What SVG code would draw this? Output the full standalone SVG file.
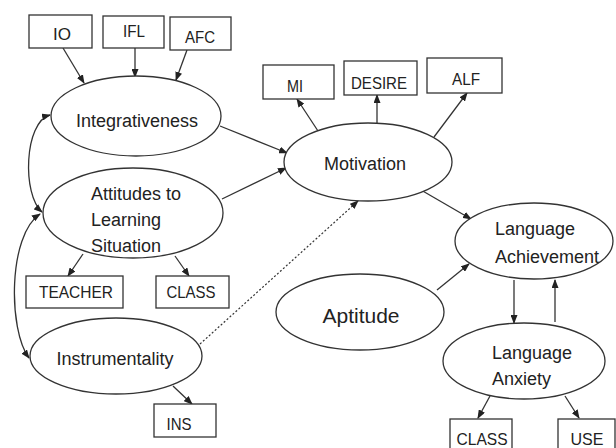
<svg xmlns="http://www.w3.org/2000/svg" width="616" height="448" viewBox="0 0 616 448">
<defs>
<marker id="ah" markerWidth="9" markerHeight="7" refX="8" refY="3.5" orient="auto-start-reverse" markerUnits="userSpaceOnUse">
<path d="M0,0 L9,3.5 L0,7 z" fill="#222"/>
</marker>
<style>
.n{fill:#fff;stroke:#333;stroke-width:1.3}
.t{font-family:"Liberation Sans",Arial,sans-serif;font-size:18px;fill:#222}
.b{font-family:"Liberation Sans",Arial,sans-serif;font-size:17px;fill:#222;text-anchor:middle}
.c{fill:none;stroke:#333;stroke-width:1.3;marker-end:url(#ah)}
.d{fill:none;stroke:#333;stroke-width:1.2;stroke-dasharray:2 2;marker-end:url(#ah)}
.dbl{fill:none;stroke:#333;stroke-width:1.3;marker-start:url(#ah);marker-end:url(#ah)}
</style>
</defs>
<rect width="616" height="448" fill="#fff"/>
<g id="connectors">
<line class="c" x1="63" y1="48" x2="84" y2="83"/>
<line class="c" x1="135" y1="48" x2="135" y2="77"/>
<line class="c" x1="187" y1="50" x2="176" y2="80"/>
<line class="c" x1="220" y1="126" x2="287" y2="153"/>
<line class="c" x1="222" y1="199" x2="286" y2="168"/>
<line class="c" x1="83" y1="254" x2="68" y2="276"/>
<line class="c" x1="175" y1="256" x2="189" y2="276"/>
<line class="c" x1="173" y1="386" x2="192" y2="404"/>
<line class="d" x1="200" y1="344" x2="358" y2="201"/>
<line class="c" x1="318" y1="131" x2="297" y2="99"/>
<line class="c" x1="377" y1="123" x2="377" y2="95"/>
<line class="c" x1="434" y1="137" x2="467" y2="93"/>
<line class="c" x1="421" y1="190" x2="471" y2="219"/>
<line class="c" x1="437" y1="290" x2="469" y2="264"/>
<line class="c" x1="514" y1="280" x2="514" y2="323"/>
<line class="c" x1="555" y1="322" x2="555" y2="280"/>
<line class="c" x1="490" y1="396" x2="478" y2="418"/>
<line class="c" x1="565" y1="396" x2="579" y2="418"/>
<path class="dbl" d="M50,115 C24,122 22,195 42,212"/>
<path class="dbl" d="M40,214 C8,235 8,330 29,358"/>
</g>
<g id="IO"><rect class="n" x="29" y="15" width="63" height="33"/><text class="b" x="62" y="40" textLength="18" lengthAdjust="spacingAndGlyphs">IO</text></g>
<g id="IFL"><rect class="n" x="103" y="16" width="61" height="32"/><text class="b" x="134" y="37" textLength="22" lengthAdjust="spacingAndGlyphs">IFL</text></g>
<g id="AFC"><rect class="n" x="170" y="17" width="61" height="33"/><text class="b" x="200" y="43" textLength="30" lengthAdjust="spacingAndGlyphs">AFC</text></g>
<g id="Integrativeness"><ellipse class="n" cx="136" cy="116" rx="85" ry="40"/><text class="t" x="137" y="127" text-anchor="middle">Integrativeness</text></g>
<g id="Attitudes"><ellipse class="n" cx="133" cy="213" rx="90" ry="45"/>
<text class="t" x="91" y="200">Attitudes to</text><text class="t" x="91" y="226">Learning</text><text class="t" x="91" y="252">Situation</text></g>
<g id="TEACHER"><rect class="n" x="26" y="276" width="97" height="32"/><text class="b" x="76" y="298" textLength="74" lengthAdjust="spacingAndGlyphs">TEACHER</text></g>
<g id="CLASS1"><rect class="n" x="156" y="276" width="73" height="32"/><text class="b" x="191" y="298" textLength="49" lengthAdjust="spacingAndGlyphs">CLASS</text></g>
<g id="Instrumentality"><ellipse class="n" cx="116" cy="356" rx="86" ry="38"/><text class="t" x="115" y="365" text-anchor="middle">Instrumentality</text></g>
<g id="INS"><rect class="n" x="154" y="404" width="62" height="33"/><text class="b" x="179" y="430" textLength="25" lengthAdjust="spacingAndGlyphs">INS</text></g>
<g id="MI"><rect class="n" x="263" y="65" width="71" height="34"/><text class="b" x="295" y="92" textLength="16" lengthAdjust="spacingAndGlyphs">MI</text></g>
<g id="DESIRE"><rect class="n" x="344" y="61" width="73" height="34"/><text class="b" x="379" y="89" textLength="56" lengthAdjust="spacingAndGlyphs">DESIRE</text></g>
<g id="ALF"><rect class="n" x="427" y="58" width="75" height="35"/><text class="b" x="466" y="85" textLength="28" lengthAdjust="spacingAndGlyphs">ALF</text></g>
<g id="Motivation"><ellipse class="n" cx="368" cy="162" rx="84" ry="39"/><text class="t" x="365" y="170" text-anchor="middle">Motivation</text></g>
<g id="LanguageAchievement"><ellipse class="n" cx="534" cy="241" rx="79" ry="38"/>
<text class="t" x="495" y="235">Language</text><text class="t" x="495" y="263">Achievement</text></g>
<g id="Aptitude"><ellipse class="n" cx="360" cy="312" rx="84" ry="38"/><text class="t" x="361" y="323" text-anchor="middle" style="font-size:21px">Aptitude</text></g>
<g id="LanguageAnxiety"><ellipse class="n" cx="524" cy="361" rx="81" ry="38"/>
<text class="t" x="492" y="359">Language</text><text class="t" x="492" y="385">Anxiety</text></g>
<g id="CLASS2"><rect class="n" x="450" y="419" width="62" height="36"/><text class="b" x="482" y="445" textLength="51" lengthAdjust="spacingAndGlyphs">CLASS</text></g>
<g id="USE"><rect class="n" x="558" y="419" width="57" height="36"/><text class="b" x="587" y="445" textLength="33" lengthAdjust="spacingAndGlyphs">USE</text></g>
</svg>
